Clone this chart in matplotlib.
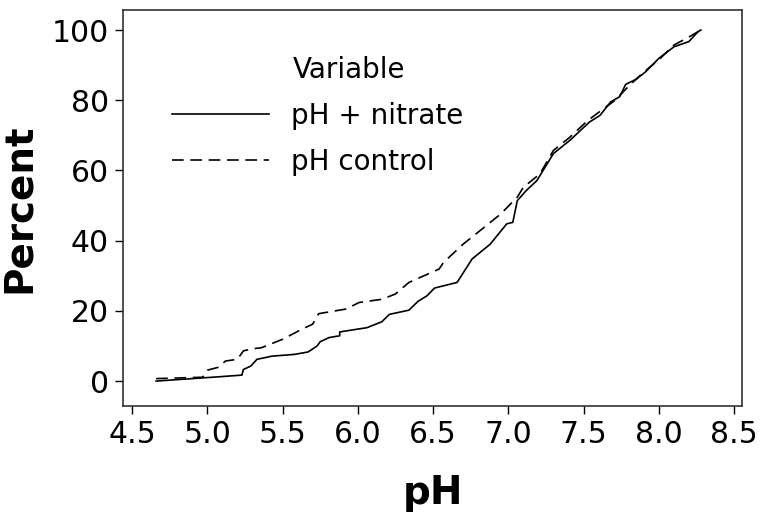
import matplotlib
matplotlib.use("Agg")
import matplotlib.pyplot as plt

# pH + nitrate (solid)
ph_nitrate = [4.66, 5.07, 5.23, 5.24, 5.29, 5.33, 5.43, 5.58, 5.67, 5.73, 5.75, 5.81,
              5.88, 5.88, 5.97, 6.06, 6.16, 6.21, 6.34, 6.40, 6.46, 6.51, 6.66, 6.76,
              6.88, 6.99, 7.03, 7.06, 7.12, 7.19, 7.30, 7.41, 7.54, 7.61, 7.68, 7.74,
              7.78, 7.85, 7.91, 8.00, 8.10, 8.20, 8.26, 8.28]
pct_nitrate = [0, 1.2, 1.7, 3.3, 4.3, 6.2, 7.1, 7.6, 8.3, 10, 11.2, 12.4,
               12.9, 14, 14.6, 15.2, 16.9, 19, 20.2, 22.7, 24.3, 26.5, 28.1, 34.8,
               39.0, 44.8, 45.2, 51.4, 54.3, 57.1, 64.8, 68.6, 73.8, 75.7, 79.5, 81,
               84.5, 86, 88, 91.9, 95.2, 96.7, 99.5, 100]

# pH control (dashed)
ph_control = [4.66, 4.97, 5.00, 5.08, 5.12, 5.20, 5.24, 5.30, 5.36, 5.50, 5.63, 5.70,
              5.74, 5.92, 6.01, 6.16, 6.25, 6.34, 6.54, 6.57, 6.70, 6.84, 6.95, 7.06,
              7.10, 7.21, 7.30, 7.41, 7.53, 7.71, 7.80, 7.90, 8.00, 8.10, 8.20, 8.26, 8.28]
pct_control = [0.7, 1.1, 3.1, 4.0, 5.7, 6.2, 8.6, 9.2, 9.5, 11.9, 14.8, 16.2,
               19.2, 20.5, 22.4, 23.3, 24.8, 28.1, 31.9, 33.8, 39.0, 43.8, 47.6, 52.4,
               55.2, 59, 65.7, 69.5, 74.3, 80, 84, 88, 91.5, 95.7, 98, 99.5, 100]

x_ticks = [4.5, 5.0, 5.5, 6.0, 6.5, 7.0, 7.5, 8.0, 8.5]
y_ticks = [0, 20, 40, 60, 80, 100]

plt.rcParams['font.family'] = ['DejaVu Sans']

fig = plt.figure(figsize=(7.62, 5.22), dpi=100)
ax = fig.add_axes([123/762, 1 - 406/522, (742-123)/762, (406-10)/522])

ax.plot(ph_nitrate, pct_nitrate, color='black', lw=1.2, ls='-', label='pH + nitrate')
ax.plot(ph_control, pct_control, color='black', lw=1.2, ls=(0, (7, 4)), label='pH control')

ax.set_xlim(4.44, 8.553)
ax.set_ylim(-7.1, 105.7)
ax.set_xticks(x_ticks)
ax.set_xticklabels([f"{v:.1f}" for v in x_ticks])
ax.set_yticks(y_ticks)
ax.tick_params(axis='both', labelsize=21.5, length=6, width=1, direction='out', pad=4)
for s in ax.spines.values():
    s.set_color('#333333')
    s.set_linewidth(1.2)

ax.set_xlabel('pH', fontsize=28, fontweight='bold', labelpad=18)
ax.set_ylabel('Percent', fontsize=28, fontweight='bold', labelpad=10)

leg = ax.legend(loc='upper left', bbox_to_anchor=(172/762, 1 - 102/522),
                bbox_transform=fig.transFigure, frameon=False, fontsize=20,
                handlelength=3.5, handletextpad=0.8, labelspacing=0.65,
                borderpad=0, borderaxespad=0)
fig.text(293/762, 1 - 70/522, 'Variable', fontsize=20, ha='left', va='center')

fig.savefig('out.png', dpi=100)
